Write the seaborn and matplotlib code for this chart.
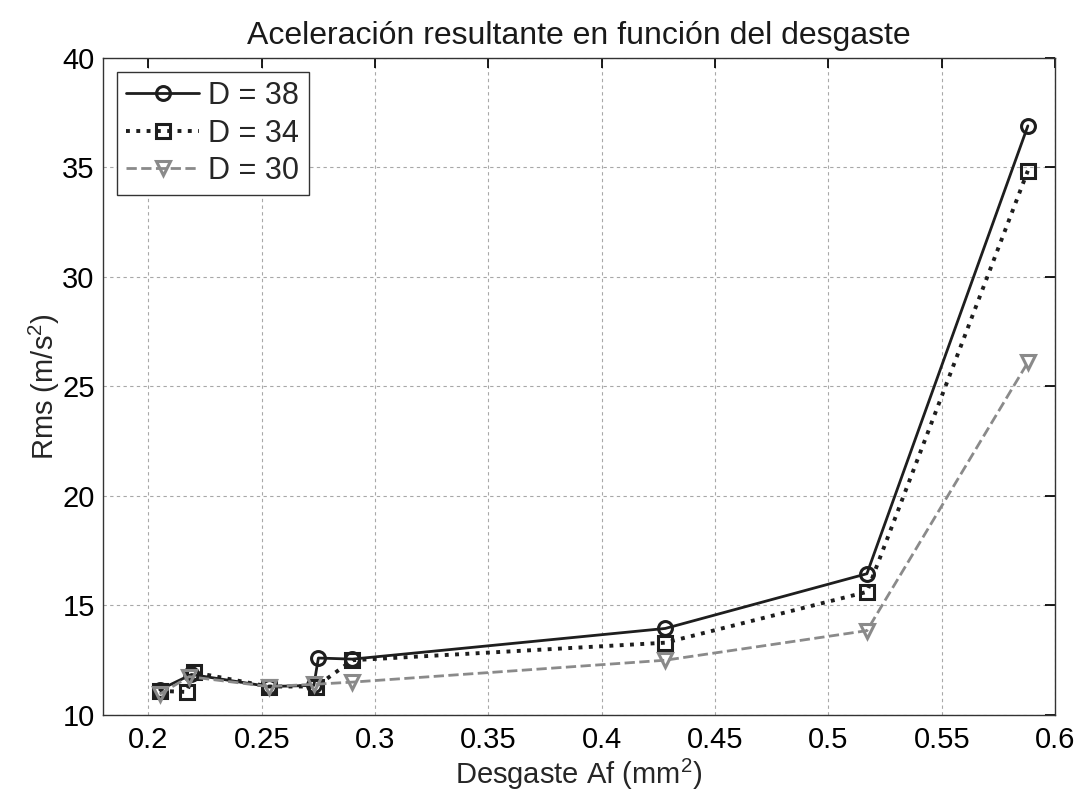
import matplotlib
matplotlib.use("Agg")
import matplotlib.pyplot as plt
import seaborn as sns
import pandas as pd

# Wear (mm^2) and resulting RMS acceleration (m/s^2) for each diameter
wear_d38 = [0.205, 0.219, 0.253, 0.273, 0.275, 0.290, 0.428, 0.517, 0.588]
rms_d38 = [11.15, 11.85, 11.30, 11.35, 12.60, 12.55, 13.95, 16.45, 36.90]

wear_d34 = [0.205, 0.217, 0.220, 0.253, 0.274, 0.290, 0.428, 0.517, 0.588]
rms_d34 = [11.10, 11.05, 11.95, 11.30, 11.30, 12.50, 13.30, 15.62, 34.85]

wear_d30 = [0.205, 0.218, 0.253, 0.273, 0.290, 0.428, 0.517, 0.588]
rms_d30 = [10.95, 11.75, 11.30, 11.40, 11.50, 12.50, 13.85, 26.10]

labels = ["D = 38", "D = 34", "D = 30"]
x_ticks = [0.2, 0.25, 0.3, 0.35, 0.4, 0.45, 0.5, 0.55, 0.6]
x_ticklabels = ["0.2", "0.25", "0.3", "0.35", "0.4", "0.45", "0.5", "0.55", "0.6"]
y_ticks = [10, 15, 20, 25, 30, 35, 40]

sns.set_theme(style="white")
plt.rcParams["font.family"] = ["Liberation Sans", "DejaVu Sans"]
plt.rcParams["mathtext.default"] = "regular"

fig = plt.figure(figsize=(10.8, 8.01), dpi=100)
ax = fig.add_axes([0.0954, 0.1074, 0.8815, 0.8202])

series = [
    (wear_d38, rms_d38, labels[0], "-", "o", "#1e1e1e", 2.0),
    (wear_d34, rms_d34, labels[1], ":", "s", "#1e1e1e", 2.8),
    (wear_d30, rms_d30, labels[2], "--", "v", "#8a8a8a", 2.0),
]
for xs, ys, lab, ls, mk, col, lw in series:
    df = pd.DataFrame({"wear": xs, "rms": ys})
    sns.lineplot(data=df, x="wear", y="rms", ax=ax, label=lab, color=col,
                 linestyle=ls, linewidth=lw, marker=mk, markersize=10,
                 markerfacecolor="none", markeredgecolor=col,
                 markeredgewidth=2.2, sort=False, estimator=None)

ax.set_xlim(0.18, 0.6)
ax.set_ylim(10, 40)
ax.set_xticks(x_ticks)
ax.set_xticklabels(x_ticklabels)
ax.set_yticks(y_ticks)
ax.grid(True, linestyle=(0, (3, 3)), color="#a8a8a8", linewidth=0.8)
ax.tick_params(direction="in", labelsize=21, colors="black",
               top=True, right=True, length=7, pad=6)
ax.tick_params(axis="x", pad=8)
for sp in ax.spines.values():
    sp.set_color("#333333")
    sp.set_linewidth(1.0)

ax.set_title("Aceleración resultante en función del desgaste",
             fontsize=23, pad=10, color="#1a1a1a")
ax.set_xlabel("Desgaste Af (mm$^2$)", fontsize=21, labelpad=2)
ax.set_ylabel("Rms (m/s$^2$)", fontsize=21, labelpad=0)

leg = ax.legend(loc="upper left", fontsize=22, frameon=True, fancybox=False,
                edgecolor="#333333", framealpha=1, handlelength=2.4,
                borderaxespad=0.45, borderpad=0.3, handletextpad=0.3,
                labelspacing=0.25)
leg.get_frame().set_linewidth(1.0)

fig.savefig("out.png", dpi=100)
